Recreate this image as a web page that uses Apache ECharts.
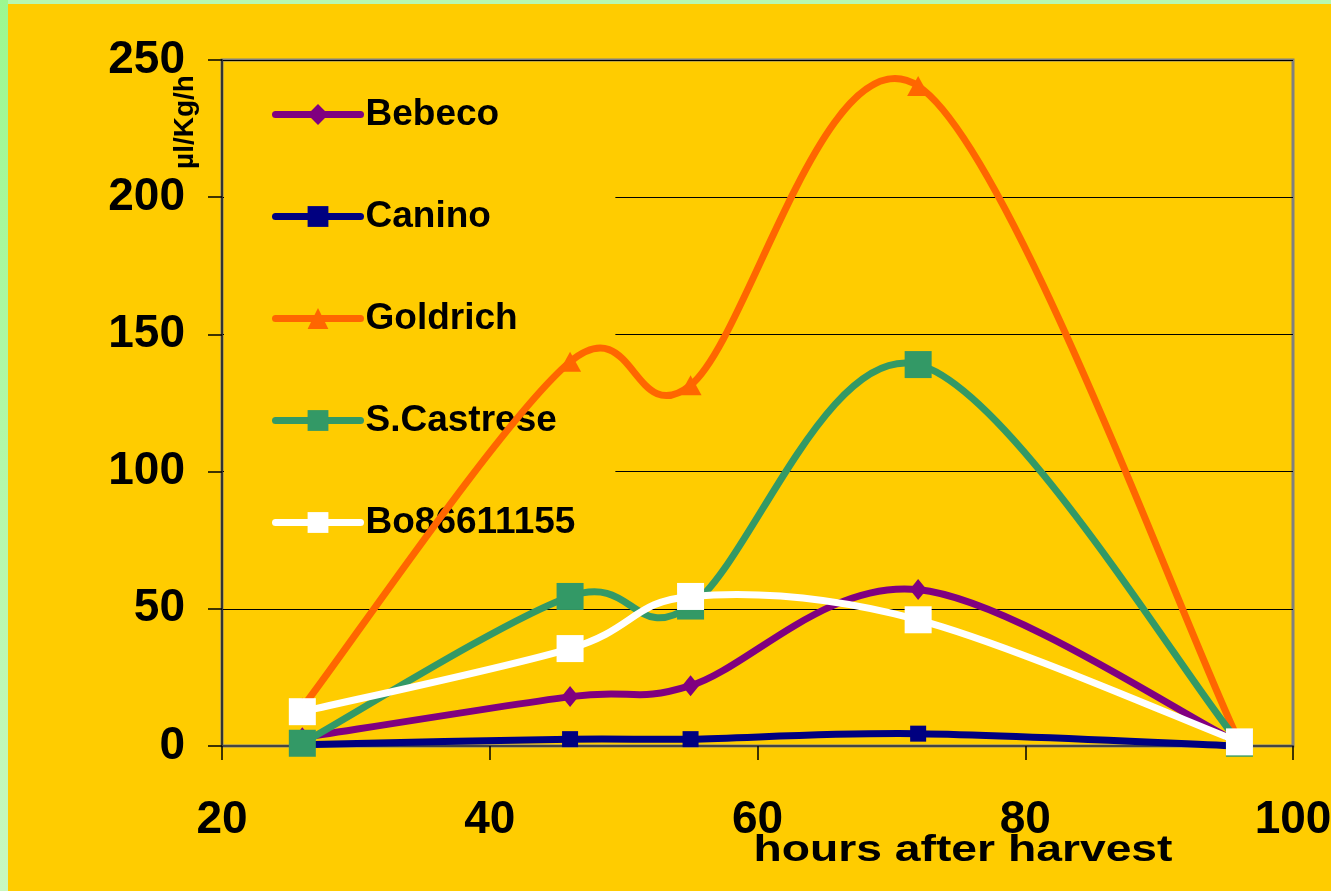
<!DOCTYPE html>
<html><head><meta charset="utf-8">
<script src="https://cdn.jsdelivr.net/npm/echarts@6/dist/echarts.min.js"></script>
<style>html,body{margin:0;padding:0;background:#FFCC00;overflow:hidden;} #c{width:1331px;height:891px;}</style>
</head><body><div id="c"></div>
<script>
// ---- data ----
const hours = [26, 46, 55, 72, 96];
const bebeco = [3, 18, 22, 57, 1];
const canino = [0.5, 2.5, 2.5, 4.5, 0];
const goldrich = [14, 140, 131.5, 240.5, 1.5];
const sCastrese = [1, 54.5, 51, 139, 1];
const bo86611155 = [12.5, 35.5, 54.5, 46, 1.5];
const seriesNames = ['Bebeco', 'Canino', 'Goldrich', 'S.Castrese', 'Bo86611155'];
const xTicks = [20, 40, 60, 80, 100];
const yTicks = [0, 50, 100, 150, 200, 250];
const xTitle = 'hours after harvest';
const yTitle = 'µl/Kg/h';

const FONT = '"Liberation Sans", Arial, sans-serif';
const LINE_W = 7;
const pairs = v => hours.map((h, i) => [h, v[i]]);
const values = [bebeco, canino, goldrich, sCastrese, bo86611155];
const styles = [
  {color: '#800080', symbol: 'diamond', symbolSize: [17, 21]},
  {color: '#000080', symbol: 'rect', symbolSize: 16},
  {color: '#FF6600', symbol: 'triangle', symbolSize: [22, 20]},
  {color: '#339966', symbol: 'rect', symbolSize: 27},
  {color: '#FFFFFF', symbol: 'rect', symbolSize: 27}
];

// Excel-style smoothed line: cubic Bezier through the points (Catmull-Rom, 1/6 tangents)
function smoothPath(pts) {
  let d = 'M' + pts[0][0] + ',' + pts[0][1];
  for (let i = 0; i < pts.length - 1; i++) {
    const p0 = pts[i - 1] || pts[i], p1 = pts[i], p2 = pts[i + 1], p3 = pts[i + 2] || pts[i + 1];
    const c1 = [p1[0] + (p2[0] - p0[0]) / 6, p1[1] + (p2[1] - p0[1]) / 6];
    const c2 = [p2[0] - (p3[0] - p1[0]) / 6, p2[1] - (p3[1] - p1[1]) / 6];
    d += ' C' + c1[0] + ',' + c1[1] + ' ' + c2[0] + ',' + c2[1] + ' ' + p2[0] + ',' + p2[1];
  }
  return d;
}

const curveSeries = seriesNames.map((name, i) => ({
  name: name + ' curve', type: 'custom', z: 2 + i * 2, silent: true,
  data: pairs(values[i]),
  renderItem: function (params, api) {
    if (params.dataIndex !== 0) return null;
    const pts = pairs(values[i]).map(p => api.coord(p));
    return {
      type: 'path',
      shape: {pathData: smoothPath(pts)},
      style: {stroke: styles[i].color, lineWidth: LINE_W, fill: null, lineCap: 'round', lineJoin: 'round'}
    };
  }
}));

const markerSeries = seriesNames.map((name, i) => ({
  name: name, type: 'line', z: 3 + i * 2, silent: true,
  data: pairs(values[i]),
  symbol: styles[i].symbol, symbolSize: styles[i].symbolSize, showSymbol: true,
  lineStyle: {color: styles[i].color, width: 0},
  itemStyle: {color: styles[i].color, borderWidth: 0},
  emphasis: {disabled: true}
}));

const chart = echarts.init(document.getElementById('c'), null, {renderer: 'canvas'});
chart.setOption({
  animation: false,
  backgroundColor: '#FFCC00',
  textStyle: {fontFamily: FONT},
  grid: {left: 222, right: 38, top: 60, bottom: 145, show: true, borderColor: '#808080', borderWidth: 3,
    backgroundColor: 'transparent', containLabel: false, outerBoundsMode: 'none'},
  xAxis: {
    type: 'value', min: xTicks[0], max: xTicks[xTicks.length - 1], interval: xTicks[1] - xTicks[0],
    axisLine: {show: true, onZero: false, lineStyle: {color: '#444', width: 2}},
    axisTick: {show: true, length: 14, lineStyle: {color: '#000', width: 1.5}},
    axisLabel: {margin: 51, fontSize: 46, fontWeight: 'bold', color: '#000', fontFamily: FONT},
    splitLine: {show: false}
  },
  yAxis: {
    type: 'value', min: yTicks[0], max: yTicks[yTicks.length - 1], interval: yTicks[1] - yTicks[0],
    axisLine: {show: true, lineStyle: {color: '#333', width: 2}},
    axisTick: {show: true, length: 14, lineStyle: {color: '#000', width: 1.5}},
    axisLabel: {margin: 37, fontSize: 46, fontWeight: 'bold', color: '#000', fontFamily: FONT},
    splitLine: {show: true, lineStyle: {color: '#000', width: 1.2}}
  },
  legend: {
    orient: 'vertical', left: 224, top: 62, z: 1,
    padding: [34, 40, 28, 48],
    backgroundColor: '#FFCC00',
    itemWidth: 85, itemHeight: 26, itemGap: 65, itemTextGap: 8,
    selectedMode: false,
    lineStyle: {width: LINE_W, cap: 'round', opacity: 1},
    textStyle: {fontSize: 37, fontWeight: 'bold', color: '#000', fontFamily: FONT},
    data: seriesNames
  },
  graphic: [
    {type: 'rect', z: 100, shape: {x: 0, y: 0, width: 1331, height: 4}, style: {fill: '#B8F8B0'}},
    {type: 'rect', z: 100, shape: {x: 0, y: 0, width: 8, height: 891},
      style: {fill: new echarts.graphic.LinearGradient(0, 0, 0, 1, [{offset: 0, color: '#9CF890'}, {offset: 1, color: '#C8F8C0'}])}},
    {type: 'text', z: 100, x: 185, y: 122, rotation: Math.PI / 2,
      style: {text: yTitle, fontSize: 28, fontWeight: 'bold', fill: '#000', fontFamily: FONT, textAlign: 'center', textVerticalAlign: 'middle'}},
    {type: 'text', z: 100, x: 963, y: 851, scaleX: 1.25,
      style: {text: xTitle, fontSize: 37, fontWeight: 'bold', fill: '#000', fontFamily: FONT, textAlign: 'center', textVerticalAlign: 'middle'}}
  ],
  series: curveSeries.concat(markerSeries)
});
</script></body></html>
